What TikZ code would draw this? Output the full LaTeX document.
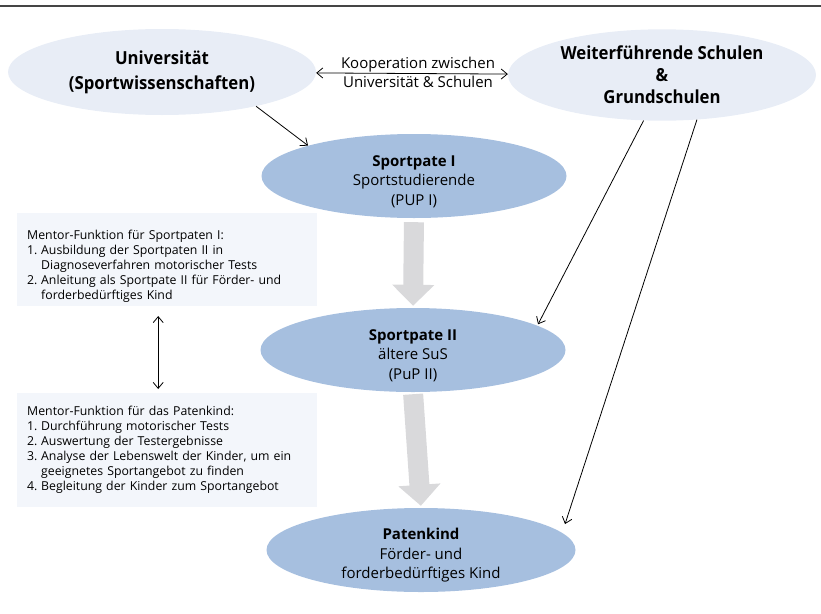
\documentclass[tikz,border=0pt]{standalone}
\usepackage{fontspec}
\setmainfont{Open Sans}
\newfontfamily\condfont[FakeStretch=0.93]{Open Sans}
\usetikzlibrary{shapes.geometric,arrows.meta}
\definecolor{paleblue}{HTML}{E8EDF6}
\definecolor{midblue}{HTML}{A6BFDF}
\definecolor{boxblue}{HTML}{F3F6FB}
\definecolor{blockgray}{HTML}{D9D9DB}
\definecolor{rulegray}{HTML}{454545}
\tikzstyle{partner}=[ellipse, fill=paleblue, minimum width=308pt, minimum height=86pt, align=center, font=\condfont\bfseries\fontsize{18}{22}\selectfont]
\tikzstyle{pate}=[ellipse, fill=midblue, minimum width=305pt, minimum height=84pt, inner ysep=-10pt, align=center, font=\fontsize{15}{19.5}\selectfont]
\tikzstyle{mentor}=[rectangle, fill=boxblue, text width=280pt, inner xsep=10pt, align=left, anchor=north west, font=\fontsize{12.3}{15}\selectfont]
\tikzstyle{link}=[line width=0.8pt]
\tikzstyle{block}=[line width=20pt, draw=blockgray, -{Triangle[width=41pt,length=21pt]}]
\newcommand{\pate}{\node[pate]}
\newcommand{\lift}[1]{\rule{0pt}{#1}}
\newcommand{\nr}[1]{\makebox[14pt][l]{#1}}
\newcommand{\cont}{\hspace*{14pt}}

\begin{document}
\begin{tikzpicture}[x=1pt, y=-1pt, >={Straight Barb[length=6pt,width=10pt]}]
	\useasboundingbox (0,0) rectangle (821,613);
	\draw[line width=2pt, rulegray] (0,6) -- (821,6);
	%% the partners on top
	\node[partner] (uni) at (162,72) {Universität\\[3pt](Sportwissenschaften)};
	\node[partner] (schulen) at (662,75) {Weiterführende Schulen\\\&\\Grundschulen};
	\node[align=center, font=\fontsize{15}{19}\selectfont] (koop) at (418,72) {Kooperation zwischen\\Universität \& Schulen};
	%% the three patenships
	\pate (pate1) at (414,176) {\lift{22pt}\textbf{Sportpate I}\\Sportstudierende\\(PUP I)};
	\pate (pate2) at (413,350) {\lift{22pt}\textbf{Sportpate II}\\ältere SuS\\(PuP II)};
	\pate (kind) at (421,550) [minimum width=309pt] {\lift{22pt}\textbf{Patenkind}\\Förder- und\\forderbedürftiges Kind};
	%% the mentor boxes
	\node[mentor, minimum height=89pt] (mentor1) at (17,213) {\lift{23pt}Mentor-Funktion für Sportpaten I:\\
		\nr{1.}Ausbildung der Sportpaten II in\\
		\cont Diagnoseverfahren motorischer Tests\\
		\nr{2.}Anleitung als Sportpate II für Förder- und\\
		\cont forderbedürftiges Kind};
	\node[mentor, minimum height=114pt] (mentor2) at (17,393) {Mentor-Funktion für das Patenkind:\\
		\nr{1.}Durchführung motorischer Tests\\
		\nr{2.}Auswertung der Testergebnisse\\
		\nr{3.}Analyse der Lebenswelt der Kinder, um ein\\
		\cont geeignetes Sportangebot zu finden\\
		\nr{4.}Begleitung der Kinder zum Sportangebot};
	%% block arrows
	\draw[block, shorten <=4pt, shorten >=2pt] (pate1.south) -- (pate2.north);
	\draw[block, shorten <=2pt, shorten >=2pt] (pate2.south) -- (kind.north);
	%% for the links
	\path[link]
		(uni) edge[<->] (schulen)
		(uni.-20) edge[->] (pate1.164)
		(schulen.-112) edge[->] ([xshift=4pt]pate2.12)
		(schulen.-52) edge[->] ([xshift=22pt]kind.12)
		([xshift=-9pt]mentor1.south) edge[<->, shorten <=10pt, shorten >=4pt] ([xshift=-9pt]mentor2.north)
		;
\end{tikzpicture}
\end{document}
